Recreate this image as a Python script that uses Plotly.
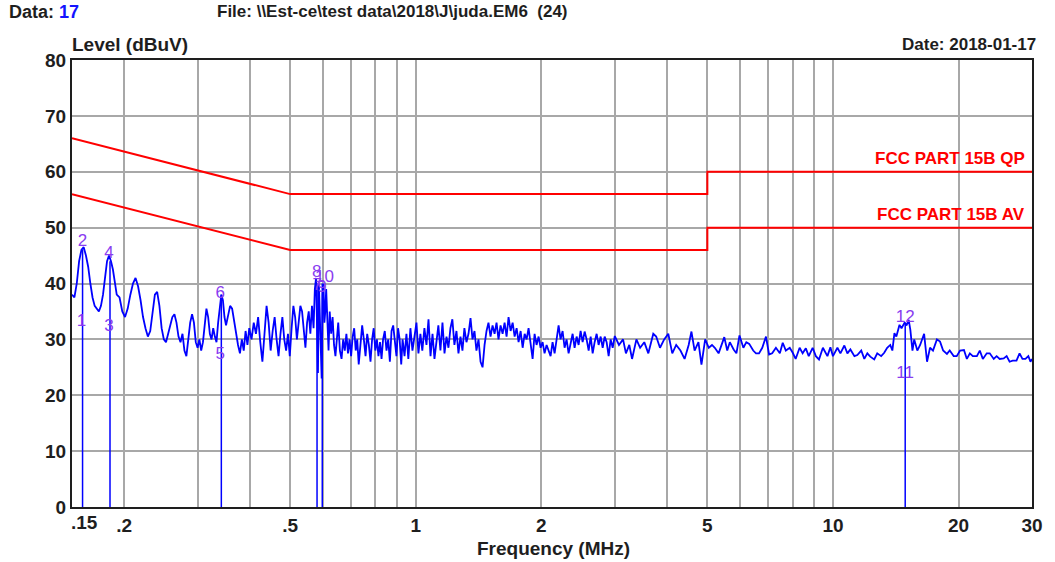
"""
plot.py
Conducted emission scan (FCC Part 15B) drawn with Plotly.
"""

import numpy as np
import plotly.graph_objects as go

FONT = "Liberation Sans, Arial, sans-serif"
BLUE = "#0000ff"
RED = "#ff0000"
MARK = "#8a3cf0"
INK = "#1e1e1e"

# measured trace, frequency (MHz) and level (dBuV), in three pieces
low_freq = [
    0.150, 0.152, 0.154, 0.156, 0.158, 0.160, 0.162, 0.164, 0.166, 0.168,
    0.170, 0.172, 0.174, 0.176, 0.178, 0.180, 0.182, 0.184, 0.186, 0.188,
    0.190, 0.192, 0.195, 0.198, 0.201, 0.204, 0.207, 0.210, 0.213, 0.216,
    0.219, 0.222, 0.225, 0.228, 0.231, 0.234, 0.237, 0.240, 0.243, 0.246,
    0.249, 0.252, 0.255, 0.258, 0.261, 0.264, 0.267, 0.270, 0.273, 0.276,
    0.279, 0.282, 0.285, 0.288, 0.291, 0.294, 0.297, 0.300, 0.303, 0.306,
    0.309, 0.312, 0.315, 0.318, 0.321, 0.324, 0.327, 0.330, 0.333, 0.336,
    0.339, 0.342, 0.345, 0.348, 0.351, 0.355, 0.359, 0.363, 0.367, 0.371,
    0.375, 0.379, 0.383, 0.387, 0.391, 0.395, 0.399, 0.404, 0.409, 0.414,
    0.419, 0.424, 0.429, 0.434, 0.439, 0.444, 0.449, 0.454, 0.459, 0.464,
    0.469, 0.474, 0.479, 0.484, 0.489, 0.494, 0.499, 0.504, 0.509, 0.514,
    0.519, 0.524, 0.529, 0.534, 0.539, 0.544, 0.549, 0.554, 0.559, 0.564,
    0.569, 0.573, 0.577, 0.580, 0.583, 0.586, 0.589, 0.592, 0.595, 0.598,
    0.601, 0.604, 0.607, 0.610, 0.614, 0.618, 0.622, 0.627, 0.632, 0.637,
    0.642, 0.647, 0.652, 0.658, 0.664, 0.670, 0.676, 0.682, 0.688, 0.694,
    0.700, 0.706, 0.712, 0.718, 0.724, 0.730, 0.737, 0.744, 0.751, 0.758,
    0.765, 0.772, 0.779, 0.786, 0.793, 0.800, 0.807, 0.814, 0.821, 0.828,
    0.835, 0.843, 0.851, 0.859, 0.867, 0.875, 0.883, 0.891, 0.899, 0.907,
    0.915, 0.923,
]
low_level = [
    38.0, 37.5, 40.0, 44.0, 46.0, 46.5, 45.0, 43.0, 40.0, 37.5,
    36.0, 35.5, 35.0, 36.0, 38.0, 41.0, 44.0, 45.0, 44.0, 42.5,
    40.0, 38.0, 37.5, 35.0, 34.0, 35.5, 38.0, 40.0, 41.0, 39.5,
    37.0, 34.0, 32.0, 30.5, 31.5, 35.0, 38.0, 38.5, 36.0, 32.0,
    30.0, 29.5, 31.0, 32.5, 34.0, 34.5, 33.0, 30.5, 29.5, 31.0,
    28.0, 27.0, 30.0, 33.0, 34.5, 33.0, 29.5, 28.5, 30.0, 28.0,
    29.5, 33.0, 35.5, 34.0, 31.0, 30.0, 32.0, 30.5, 29.5, 33.0,
    36.0, 38.0, 37.0, 34.0, 32.5, 34.0, 36.0, 35.5, 33.0, 31.0,
    29.0, 27.5, 30.0, 28.0, 31.5, 29.0, 32.0, 30.0, 33.0, 31.0,
    34.0, 29.5, 26.0, 31.0, 36.0, 33.0, 28.0, 31.5, 34.0, 30.0,
    27.0, 31.0, 34.0, 30.0, 28.0, 31.0, 27.0, 32.0, 36.0, 34.0,
    30.0, 33.0, 36.0, 35.0, 31.0, 28.5, 33.0, 35.0, 31.0, 36.0,
    32.0, 39.0, 41.0, 33.0, 24.0, 40.0, 35.0, 27.0, 23.0, 38.0,
    40.0, 33.0, 35.0, 39.0, 31.0, 28.0, 35.0, 31.0, 34.0, 29.0,
    27.0, 31.0, 33.0, 28.0, 26.5, 30.0, 28.0, 31.0, 27.5, 30.0,
    27.0, 30.5, 32.0, 28.0, 30.0, 25.5, 29.0, 32.5, 30.0, 27.0,
    31.0, 29.0, 26.0, 30.0, 32.0, 28.0, 30.0, 27.0, 29.5, 26.5,
    30.0, 31.5, 28.0, 30.0, 26.0, 31.5, 32.5, 29.0, 27.0, 32.0,
    30.0, 25.5,
]

mid_freq = [
    0.930, 0.940, 0.950, 0.960, 0.971, 0.982, 0.993, 1.004, 1.015, 1.026,
    1.037, 1.049, 1.061, 1.073, 1.085, 1.097, 1.109, 1.121, 1.133, 1.146,
    1.159, 1.172, 1.185, 1.198, 1.211, 1.224, 1.238, 1.252, 1.266, 1.280,
    1.294, 1.308, 1.323, 1.338, 1.353, 1.368, 1.383, 1.398, 1.414, 1.430,
    1.446, 1.462, 1.478, 1.494, 1.511, 1.528, 1.545, 1.562, 1.579, 1.597,
    1.615, 1.633, 1.651, 1.669, 1.688, 1.707, 1.726, 1.745, 1.764, 1.784,
    1.804, 1.824, 1.844, 1.864, 1.885, 1.906, 1.927, 1.948, 1.970, 1.992,
    2.014, 2.036, 2.059, 2.082, 2.105, 2.128, 2.152, 2.176, 2.200, 2.224,
    2.249, 2.274, 2.299, 2.325, 2.351, 2.377, 2.403, 2.430, 2.457, 2.484,
    2.512, 2.540, 2.568, 2.597, 2.626, 2.655, 2.684, 2.714, 2.744, 2.775,
    2.806, 2.837, 2.868, 2.900, 2.932, 2.965, 3.000,
]
mid_level = [
    30.0, 27.0, 31.0, 26.5, 32.0, 28.0, 30.5, 33.0, 27.5, 31.0,
    28.0, 32.0, 29.0, 33.6, 27.0, 31.0, 26.5, 30.0, 32.5, 28.0,
    33.0, 27.5, 30.5, 28.5, 32.0, 33.6, 29.0, 31.5, 27.5, 30.5,
    28.0, 32.0, 29.5, 31.0, 33.8, 30.0, 31.5, 28.0, 30.0, 26.0,
    25.0, 29.0, 31.5, 33.0, 30.5, 32.5, 31.0, 33.0, 30.0, 32.5,
    31.0, 33.0, 30.5, 34.0, 31.5, 33.0, 30.5, 32.0, 29.5, 31.5,
    28.5, 31.0, 30.0, 32.0, 29.5, 26.5, 31.0, 29.0, 30.5, 28.5,
    29.5, 27.5, 29.0, 28.0, 27.0, 29.5, 27.5, 30.0, 32.5, 30.0,
    31.5, 28.5, 30.0, 27.5, 29.0, 31.0, 28.5, 30.5, 29.0, 31.5,
    29.5, 31.4, 30.0, 28.0, 30.5, 27.5, 29.5, 31.0, 29.0, 30.5,
    28.5, 30.5, 29.5, 27.0, 30.0, 28.5, 30.6,
]

high_freq = [
    3.07, 3.14, 3.19, 3.25, 3.30, 3.38, 3.45, 3.53, 3.61, 3.71,
    3.77, 3.85, 3.94, 4.03, 4.12, 4.21, 4.31, 4.41, 4.51, 4.58,
    4.66, 4.76, 4.84, 4.94, 5.04, 5.13, 5.21, 5.32, 5.41, 5.49,
    5.58, 5.66, 5.78, 5.87, 5.97, 6.10, 6.20, 6.30, 6.44, 6.54,
    6.65, 6.77, 6.91, 7.03, 7.15, 7.30, 7.46, 7.58, 7.71, 7.88,
    8.01, 8.14, 8.32, 8.46, 8.61, 8.75, 8.94, 9.10, 9.26, 9.46,
    9.70, 9.86, 10.00, 10.25, 10.42, 10.65, 10.83, 11.01, 11.26, 11.44,
    11.69, 11.89, 12.09, 12.29, 12.56, 12.77, 13.05, 13.27, 13.49, 13.72,
    13.88, 14.04, 14.19, 14.44, 14.60, 14.85, 15.01, 15.19, 15.33, 15.51,
    15.66, 15.93, 16.18, 16.54, 16.81, 17.09, 17.37, 17.75, 18.06, 18.37,
    18.76, 19.05, 19.47, 19.80, 20.17, 20.61, 20.94, 21.29, 21.64, 22.13,
    22.49, 22.87, 23.37, 23.76, 24.29, 24.68, 25.10, 25.66, 26.08, 26.51,
    26.96, 27.54, 28.01, 28.46, 28.93, 29.40, 29.75, 30.00,
]
high_level = [
    29.0, 30.0, 27.5, 29.0, 26.5, 30.0, 28.5, 29.5, 27.5, 31.0,
    30.5, 28.5, 30.0, 31.0, 27.5, 29.0, 28.0, 26.5, 29.0, 31.4,
    28.0, 29.5, 25.5, 30.0, 28.5, 29.0, 28.5, 27.5, 29.0, 30.4,
    28.0, 29.5, 28.2, 27.5, 30.7, 28.5, 29.5, 29.2, 28.0, 27.5,
    27.5, 28.5, 30.5, 27.3, 27.5, 28.5, 27.5, 29.4, 28.0, 28.5,
    27.6, 26.5, 28.5, 27.5, 28.4, 27.0, 28.5, 27.0, 26.4, 28.5,
    27.0, 28.6, 27.0, 28.5, 27.5, 28.9, 27.5, 28.2, 27.0, 27.2,
    28.0, 26.5, 27.5, 26.9, 26.4, 27.5, 27.0, 27.6, 28.5, 29.0,
    28.0, 31.1, 30.5, 32.6, 32.0, 33.0, 32.5, 33.5, 31.7, 28.0,
    30.0, 28.0, 29.0, 31.0, 26.0, 28.5, 28.0, 30.0, 29.6, 28.0,
    27.4, 28.0, 27.0, 27.0, 28.0, 28.1, 26.5, 27.5, 27.0, 27.0,
    28.0, 26.5, 27.5, 27.5, 26.5, 27.0, 26.5, 26.6, 27.0, 26.0,
    26.2, 26.2, 27.5, 26.5, 26.5, 27.0, 26.0, 26.5,
]

trace_freq = low_freq + mid_freq + high_freq
trace_level = low_level + mid_level + high_level

# limit lines (FCC Part 15B)
limit_freq = [0.15, 0.5, 5.0, 5.0, 30.0]
qp_limit = [66, 56, 56, 60, 60]
av_limit = [56, 46, 46, 50, 50]

# markers
marker_freq = [0.159, 0.185, 0.342, 0.580, 0.597, 14.9]
marker_top = [46, 44, 38, 40, 40, 33]
label_freq = [0.158, 0.159, 0.184, 0.184, 0.340, 0.340, 0.581, 0.579, 0.596, 0.604, 14.9, 14.9]
label_level = [33.1, 47.4, 32.2, 45.3, 27.2, 38.1, 39.6, 42.0, 39.2, 41.0, 23.8, 33.8]
label_text = ["1", "2", "3", "4", "5", "6", "7", "8", "9", "10", "11", "12"]

grid_vals = [0.2, 0.3, 0.4, 0.5, 0.6, 0.7, 0.8, 0.9, 1, 2, 3, 4, 5, 6, 7, 8, 9, 10, 20, 30]
grid_text = [".2", "", "", ".5", "", "", "", "", "1", "2", "", "", "5", "", "", "", "", "10", "20", "30"]
y_vals = [0, 10, 20, 30, 40, 50, 60, 70, 80]

fig = go.Figure()

fig.add_trace(go.Scatter(x=limit_freq, y=qp_limit, mode="lines", line=dict(color=RED, width=2)))
fig.add_trace(go.Scatter(x=limit_freq, y=av_limit, mode="lines", line=dict(color=RED, width=2)))

for f, top in zip(marker_freq, marker_top):
    fig.add_trace(go.Scatter(x=[f, f], y=[0, top], mode="lines", line=dict(color=BLUE, width=1.5)))

fig.add_trace(go.Scatter(x=trace_freq, y=trace_level, mode="lines", line=dict(color=BLUE, width=1.8)))

fig.add_trace(go.Scatter(
    x=label_freq, y=label_level, mode="text", text=label_text,
    textfont=dict(family=FONT, size=17, color=MARK),
))


# page pixel -> paper fraction (plot area spans x 72..1035, y 60..507)
def px_x(p):
    return (p - 72) / 963


def px_y(p):
    return (507 - p) / 447


def note(text, x, y, anchor="left", size=18, color=INK):
    fig.add_annotation(
        text=text, x=px_x(x), y=px_y(y), xref="paper", yref="paper",
        xanchor=anchor, yanchor="middle", showarrow=False,
        font=dict(family=FONT, size=size, color=color),
    )


note("<b>Data: <span style='color:#1414ff'>17</span></b>", 7, 12, size=18)
note("<b>File: \\\\Est-ce\\test data\\2018\\J\\juda.EM6&nbsp;&nbsp;(24)</b>", 215, 12, size=17)
note("<b>Level (dBuV)</b>", 70, 45, size=19)
note("<b>Date: 2018-01-17</b>", 1041, 45, anchor="right", size=17)
note("<b>Frequency (MHz)</b>", 555, 548, anchor="center", size=19)
note("<b>.15</b>", 85, 522, anchor="center", size=19)
note("<b>FCC PART 15B QP</b>", 1030, 158, anchor="right", size=17, color=RED)
note("<b>FCC PART 15B AV</b>", 1030, 214, anchor="right", size=17, color=RED)

fig.update_layout(
    width=1055, height=562,
    margin=dict(l=72, r=20, t=60, b=55),
    paper_bgcolor="white", plot_bgcolor="white",
    showlegend=False,
    font=dict(family=FONT, color=INK),
)
fig.update_xaxes(
    type="log", range=[np.log10(0.15), np.log10(30)],
    tickvals=grid_vals, ticktext=[f"<b>{t}</b>" for t in grid_text],
    tickfont=dict(size=19), ticks="",
    showgrid=True, gridcolor="#a8a8a8", gridwidth=1.5,
    showline=True, linecolor=INK, linewidth=2, mirror=True,
    zeroline=False,
)
fig.update_yaxes(
    range=[0, 80], tickvals=y_vals, ticktext=[f"<b>{v}</b>" for v in y_vals],
    tickfont=dict(size=19), ticks="",
    showgrid=True, gridcolor="#a8a8a8", gridwidth=1.5,
    showline=True, linecolor=INK, linewidth=2, mirror=True,
    zeroline=False,
)

# drop the browser's default 8px body margin so the figure sits at the page corner
fig.write_html(
    "out.html",
    config={"displayModeBar": False},
    post_script="document.body.style.margin = '0';",
)
